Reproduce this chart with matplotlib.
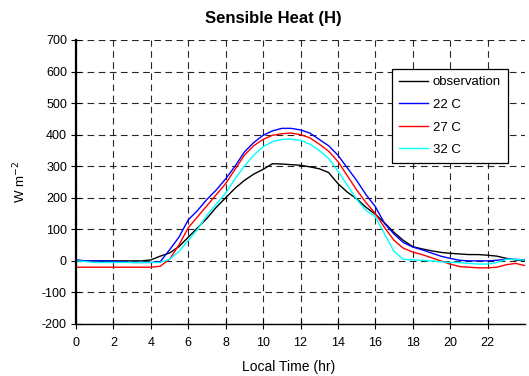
import matplotlib
matplotlib.use("Agg")
import matplotlib.pyplot as plt
import numpy as np

plt.rcParams['font.family'] = ['Liberation Sans', 'DejaVu Sans']
plt.rcParams['axes.unicode_minus'] = False

hours = [0, 0.5, 1, 1.5, 2, 2.5, 3, 3.5, 4, 4.5, 5, 5.5, 6, 6.5, 7, 7.5, 8, 8.5,
         9, 9.5, 10, 10.5, 11, 11.5, 12, 12.5, 13, 13.5, 14, 14.5, 15, 15.5, 16,
         16.5, 17, 17.5, 18, 18.5, 19, 19.5, 20, 20.5, 21, 21.5, 22, 22.5, 23, 23.5, 24]

observation = [2, 0, 0, 0, 0, 0, 0, 0, 3, 15, 25, 45, 75, 105, 135, 170, 200, 230,
               255, 275, 290, 308, 307, 305, 303, 298, 292, 280, 245, 218, 197, 170, 148,
               120, 90, 65, 45, 38, 32, 27, 24, 22, 20, 20, 18, 15, 8, 3, 0]

c22 = [3, 0, 0, 0, -2, -3, -5, -5, -5, -3, 35, 75, 130, 160, 195, 225, 260, 300,
       345, 375, 398, 412, 420, 420, 415, 405, 385, 365, 335, 295, 255, 210, 172,
       118, 85, 58, 44, 35, 25, 15, 8, 2, 0, 0, 0, 2, 5, 5, 3]

c27 = [-20, -20, -20, -20, -20, -20, -20, -20, -20, -17, 5, 50, 105, 140, 175, 210, 245, 290,
       335, 365, 385, 398, 403, 405, 400, 390, 370, 348, 315, 270, 225, 185, 150,
       105, 65, 40, 28, 20, 10, 0, -10, -18, -20, -22, -22, -20, -12, -8, -15]

c32 = [0, -2, -5, -5, -5, -5, -5, -5, -5, -5, 5, 30, 65, 100, 145, 180, 215, 260,
       300, 335, 362, 378, 385, 386, 382, 370, 350, 325, 285, 240, 195, 160, 140,
       85, 30, 5, 3, 2, 0, -3, -5, -5, -8, -10, -10, -5, 5, 5, 2]

series_labels = ['observation', '22 C', '27 C', '32 C']
series_colors = ['black', '#0000ff', '#ff0000', '#00ffff']
xticks = list(range(0, 24, 2))
yticks = list(range(-200, 701, 100))

W, H = 529, 376
fig = plt.figure(figsize=(W/100, H/100), dpi=100)
ax = fig.add_axes([76/W, 1-324/H, 449/W, 284/H])

for data, lab, col in zip([observation, c22, c27, c32], series_labels, series_colors):
    ax.plot(hours, data, color=col, lw=1.0, label=lab)

ax.set_xlim(0, 24)
ax.set_ylim(-200, 700)
ax.set_xticks(xticks)
ax.set_yticks(yticks)
ax.tick_params(labelsize=9, direction='inout', length=7, width=0.8)
ax.tick_params(axis='x', pad=6)
ax.tick_params(axis='y', pad=3)
ax.grid(True, color='black', linestyle=(0, (6, 4)), linewidth=0.8, alpha=0.85)
for s in ['top', 'right']:
    ax.spines[s].set_visible(False)
ax.spines['left'].set_linewidth(1.6)
ax.spines['bottom'].set_linewidth(1.0)

fig.text(273/W, 1-19/H, 'Sensible Heat (H)', fontsize=12, fontweight='bold',
         ha='center', va='center')
ax.set_xlabel('Local Time (hr)', fontsize=10)
ax.xaxis.set_label_coords((289-76)/449, (324-367)/284)
ax.xaxis.label.set_va('center')
ax.set_ylabel('W m$^{-2}$', fontsize=9.5)
ax.yaxis.set_label_coords((20-76)/449, 0.5)
ax.yaxis.label.set_va('center')

leg = ax.legend(loc='upper left', bbox_to_anchor=((392-76)/449, (324-69)/284), fontsize=9.5,
                handlelength=2.2, handletextpad=0.35, labelspacing=0.78, borderpad=0.55,
                fancybox=False, framealpha=1, edgecolor='black', borderaxespad=0)
leg.get_frame().set_linewidth(0.9)

fig.savefig('out.png', dpi=100)
